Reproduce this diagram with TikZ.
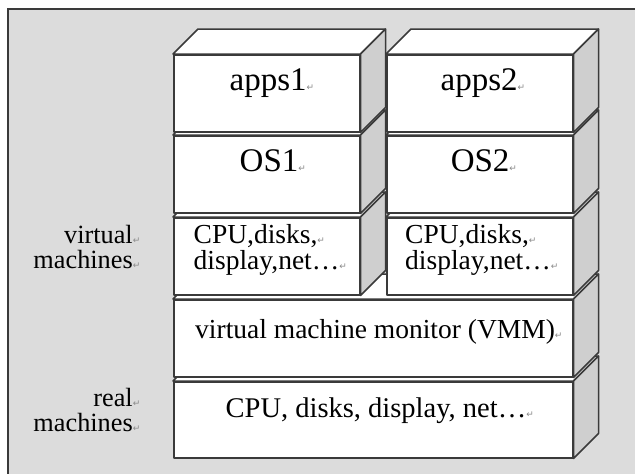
\documentclass[tikz,border=0pt]{standalone}
\usepackage{fontspec}
\setmainfont{Liberation Serif}
\newfontfamily\markfont{DejaVu Sans}
\definecolor{bggray}{HTML}{DCDCDC}
\definecolor{sidegray}{HTML}{CFCFCF}
\definecolor{edgegray}{HTML}{3A3A3A}
\definecolor{markgray}{HTML}{8A8A8A}
\newcommand\pmark{{\markfont\fontsize{9}{9}\selectfont\textcolor{markgray}{↵}}}
\tikzset{
  frontface/.style={draw=edgegray, fill=white, line width=1.5pt, inner sep=0pt, anchor=north west, line join=round},
  topface/.style={draw=edgegray, fill=white, line width=1.5pt, line join=round},
  sideface/.style={draw=edgegray, fill=sidegray, line width=1.5pt, line join=round},
  lbl/.style={inner sep=0pt, anchor=base west, text=black},
  sidelbl/.style={inner sep=0pt, anchor=base east, text=black, font=\fontsize{26.3}{26}\selectfont},
}
% #1 name, #2 x1, #3 y1, #4 x2, #5 y2
\newcommand\stackbox[5]{%
  \node[frontface, minimum width={#4pt-#2pt}, minimum height={#5pt-#3pt}] (#1) at (#2,#3) {};
  \filldraw[topface] (#1.north west) -- ++(25,-25) -- ([shift={(25,-25)}]#1.north east) -- (#1.north east) -- cycle;
  \filldraw[sideface] (#1.north east) -- ++(25,-25) -- ([shift={(25,-25)}]#1.south east) -- (#1.south east) -- cycle;
}
\begin{document}
\begin{tikzpicture}[x=1pt,y=-1pt]
\useasboundingbox (0,0) rectangle (635,474);
\fill[white] (0,0) rectangle (635,474);
\fill[bggray] (8,9) rectangle (635,474);
\draw[edgegray, line width=1.3pt] (8,474) -- (8,9) -- (635,9);

\stackbox{real}{173}{381}{572}{457}
\stackbox{vmm}{173}{299}{572}{376}
\stackbox{cpuA}{173}{217}{359}{294}
\stackbox{cpuB}{386}{217}{572}{294}
\stackbox{osA}{173}{135}{359}{212}
\stackbox{osB}{386}{135}{572}{212}
\stackbox{appsA}{173}{54}{359}{131}
\stackbox{appsB}{386}{54}{572}{131}

\node[lbl, font=\fontsize{33}{33}\selectfont] (tappsA) at (229.5,90.7) {apps1\pmark};
\node[lbl, font=\fontsize{33}{33}\selectfont] (tappsB) at (440.5,90.3) {apps2\pmark};
\node[lbl, font=\fontsize{33}{33}\selectfont] (tosA) at (239.5,171.7) {OS1\pmark};
\node[lbl, font=\fontsize{33}{33}\selectfont] (tosB) at (450.6,171.7) {OS2\pmark};
\node[lbl, font=\fontsize{27.5}{27}\selectfont] (tcpuA1) at (193.5,243.3) {CPU,disks,\pmark};
\node[lbl, font=\fontsize{27.5}{27}\selectfont] (tcpuA2) at (193.5,269.3) {display,net…\pmark};
\node[lbl, font=\fontsize{27.5}{27}\selectfont] (tcpuB1) at (405,243.3) {CPU,disks,\pmark};
\node[lbl, font=\fontsize{27.5}{27}\selectfont] (tcpuB2) at (405,269.3) {display,net…\pmark};
\node[lbl, font=\fontsize{27.5}{27}\selectfont] (tvmm) at (195,338.5) {virtual machine monitor (VMM)\pmark};
\node[lbl, font=\fontsize{28.5}{28}\selectfont] (treal) at (225.5,417.3) {CPU, disks, display, net…\pmark};

\node[sidelbl] (lvirt1) at (140.5,243) {virtual\pmark};
\node[sidelbl] (lvirt2) at (140.5,268.5) {machines\pmark};
\node[sidelbl] (lreal1) at (140.5,406) {real\pmark};
\node[sidelbl] (lreal2) at (140.5,431) {machines\pmark};
\end{tikzpicture}
\end{document}
